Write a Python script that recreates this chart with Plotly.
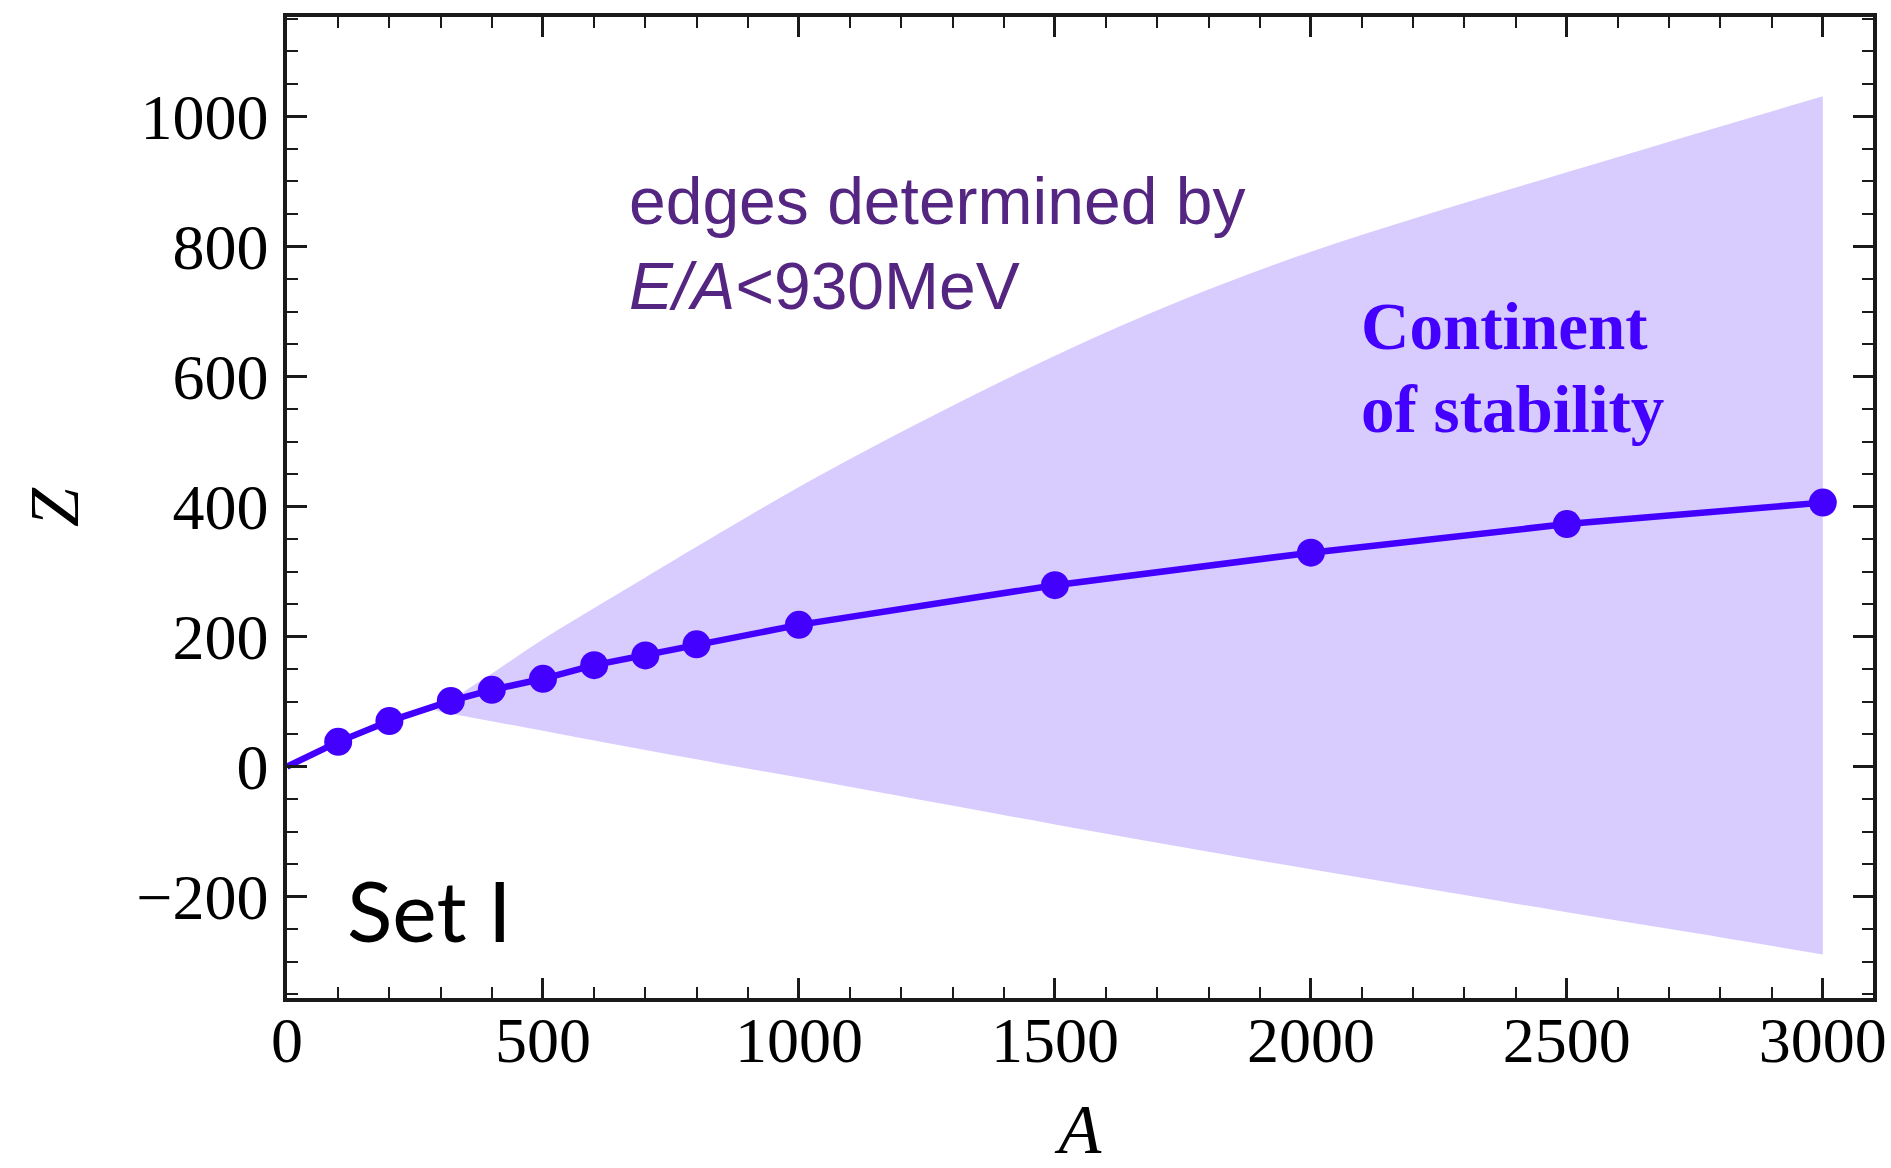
import plotly.graph_objects as go

# ---- data ----
A_line = [0, 100, 200, 320, 400, 500, 600, 700, 800, 1000, 1500, 2000, 2500, 3000]
Z_line = [0, 38, 70, 101, 118, 135, 156, 171, 188, 218, 279, 329, 373, 406]

A_upper = [290, 320, 400, 500, 600, 700, 800, 1000, 1250, 1500, 1750, 2000, 2250, 2500, 2750, 3000]
Z_upper = [86, 102, 143, 196, 244, 291, 338, 430, 535, 632, 718, 792, 855, 914, 973, 1031]

A_lower = [290, 500, 750, 1000, 1250, 1500, 1750, 2000, 2250, 2500, 2750, 3000]
Z_lower = [86, 55, 18, -17, -53, -89, -124, -158, -191, -224, -256, -289]

x_range = [0, 3098]
y_range = [-356, 1153]

LINE_COLOR = "#4400FF"
FILL_COLOR = "#D8CCFF"
TEXT_PURPLE = "#552582"
AXIS_COLOR = "#1a1a1a"

fig = go.Figure()

# stability band: lower edge, then upper edge filled down to it
fig.add_trace(go.Scatter(
    x=A_lower, y=Z_lower, mode="lines",
    line=dict(width=0, color=FILL_COLOR, shape="spline", smoothing=1.0),
    hoverinfo="skip",
))
fig.add_trace(go.Scatter(
    x=A_upper, y=Z_upper, mode="lines",
    line=dict(width=0, color=FILL_COLOR, shape="spline", smoothing=1.0),
    fill="tonexty", fillcolor=FILL_COLOR,
    hoverinfo="skip",
))

# line through the points
fig.add_trace(go.Scatter(
    x=A_line, y=Z_line, mode="lines",
    line=dict(color=LINE_COLOR, width=6.5),
))
# markers (no marker at origin)
fig.add_trace(go.Scatter(
    x=A_line[1:], y=Z_line[1:], mode="markers",
    marker=dict(color=LINE_COLOR, size=28, line=dict(width=0)),
))

tick_font = dict(family="Liberation Serif, Times New Roman, serif", size=64, color="black")
title_font = dict(family="Liberation Serif, Times New Roman, serif", size=70, color="black")

common_axis = dict(
    ticks="inside", tickcolor=AXIS_COLOR, tickwidth=2.5,
    showline=True, linewidth=3.5, linecolor=AXIS_COLOR, mirror="ticks",
    showgrid=False, zeroline=False, tickfont=tick_font, automargin=False,
)

fig.update_layout(
    width=1891, height=1168,
    margin=dict(l=287, r=18, t=17, b=170, autoexpand=False),
    plot_bgcolor="white", paper_bgcolor="white",
    showlegend=False,
    xaxis=dict(
        range=x_range, tickmode="linear", tick0=0, dtick=500, ticklen=20,
        minor=dict(dtick=100, ticklen=11, tickwidth=2, ticks="inside",
                   tickcolor=AXIS_COLOR, showgrid=False),
        title=dict(text="<i>A</i>", font=title_font, standoff=82),
        ticklabelstandoff=-17,
        **common_axis,
    ),
    yaxis=dict(
        range=y_range, tickmode="linear", tick0=0, dtick=200, ticklen=20,
        minor=dict(dtick=50, ticklen=11, tickwidth=2, ticks="inside",
                   tickcolor=AXIS_COLOR, showgrid=False),
        title=dict(text="<i>Z</i>", font=title_font, standoff=36),
        ticklabelstandoff=2,
        **common_axis,
    ),
)

sans = "Liberation Sans, Arial, sans-serif"
serif = "Liberation Serif, Times New Roman, serif"

fig.add_annotation(
    text="edges determined by", xref="paper", yref="paper",
    x=0.2145, y=0.812, xanchor="left", yanchor="middle", showarrow=False,
    font=dict(family=sans, size=66, color=TEXT_PURPLE),
)
fig.add_annotation(
    text="<i>E/A</i>&lt;930MeV", xref="paper", yref="paper",
    x=0.2145, y=0.726, xanchor="left", yanchor="middle", showarrow=False,
    font=dict(family=sans, size=66, color=TEXT_PURPLE),
)
fig.add_annotation(
    text="<b>Continent</b>", xref="paper", yref="paper",
    x=0.6758, y=0.6846, xanchor="left", yanchor="middle", showarrow=False,
    font=dict(family=serif, size=67, color=LINE_COLOR),
)
fig.add_annotation(
    text="<b>of stability</b>", xref="paper", yref="paper",
    x=0.6758, y=0.6004, xanchor="left", yanchor="middle", showarrow=False,
    font=dict(family=serif, size=67, color=LINE_COLOR),
)
fig.add_annotation(
    text="Set I", xref="paper", yref="paper",
    x=0.0366, y=0.0905, xanchor="left", yanchor="middle", showarrow=False,
    font=dict(family="Lato, Liberation Sans, sans-serif", size=84, color="black"),
)

fig.write_html("out.html")
